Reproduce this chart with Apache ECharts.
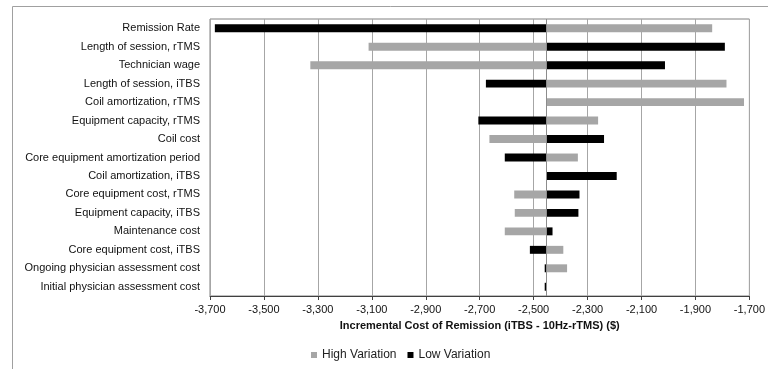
<!DOCTYPE html>
<html>
<head>
<meta charset="utf-8">
<script src="https://cdn.jsdelivr.net/npm/echarts@6/dist/echarts.min.js"></script>
<style>html,body{margin:0;padding:0;background:#fff}#c{width:768px;height:369px}</style>
</head>
<body>
<div id="c"></div>
<script>
const categories = [
  'Remission Rate',
  'Length of session, rTMS',
  'Technician wage',
  'Length of session, iTBS',
  'Coil amortization, rTMS',
  'Equipment capacity, rTMS',
  'Coil cost',
  'Core equipment amortization period',
  'Coil amortization, iTBS',
  'Core equipment cost, rTMS',
  'Equipment capacity, iTBS',
  'Maintenance cost',
  'Core equipment cost, iTBS',
  'Ongoing physician assessment cost',
  'Initial physician assessment cost'
];
const baseValue = -2454;
const highVariation = [-1838, -3112, -3328, -1785, -1720, -2261, -2664, -2336, -2454, -2572, -2570, -2607, -2390, -2376, -2454];
const lowVariation  = [-3682, -1791, -2013, -2677, -2454, -2705, -2239, -2607, -2192, -2330, -2334, -2430, -2514, -2459, -2459];
const xTicks = { min: -3700, max: -1700, interval: 200 };

const FONT = '"Liberation Sans", Arial, sans-serif';

function renderBar(params, api) {
  const v = api.value(0);
  const c = api.value(1);
  const p0 = api.coord([baseValue, c]);
  const p1 = api.coord([v, c]);
  const h = api.size([0, 1])[1] * 0.43;
  return {
    type: 'rect',
    shape: { x: Math.min(p0[0], p1[0]), y: p0[1] - h / 2, width: Math.abs(p1[0] - p0[0]), height: h },
    style: api.style()
  };
}

const chart = echarts.init(document.getElementById('c'), null, { renderer: 'canvas' });
chart.setOption({
  animation: false,
  textStyle: { fontFamily: FONT },
  graphic: [{
    type: 'polyline',
    shape: { points: [[12.5, 369], [12.5, 6.5], [768, 6.5]] },
    style: { stroke: '#a0a0a0', lineWidth: 1, fill: null },
    silent: true
  }],
  grid: { left: 210, right: 16, top: 19, bottom: 73, show: true, borderColor: '#808080', borderWidth: 1 },
  legend: {
    top: 349,
    left: 311,
    icon: 'rect',
    itemWidth: 6,
    itemHeight: 6,
    itemGap: 11,
    padding: 0,
    textStyle: { fontSize: 12, color: '#222', fontFamily: FONT },
    data: ['High Variation', 'Low Variation']
  },
  xAxis: {
    type: 'value',
    min: xTicks.min,
    max: xTicks.max,
    interval: xTicks.interval,
    name: 'Incremental Cost of Remission (iTBS - 10Hz-rTMS) ($)',
    nameLocation: 'middle',
    nameGap: 24,
    nameTextStyle: { fontSize: 11, fontWeight: 'bold', color: '#111', fontFamily: FONT },
    axisLine: { show: true, lineStyle: { color: '#404040', width: 1 } },
    axisTick: { show: true, length: 4, lineStyle: { color: '#404040' } },
    axisLabel: {
      fontSize: 11, color: '#111', margin: 8, fontFamily: FONT,
      formatter: v => v.toLocaleString('en-US')
    },
    splitLine: { show: true, lineStyle: { color: '#a6a6a6', width: 1 } }
  },
  yAxis: {
    type: 'category',
    data: categories,
    inverse: true,
    axisLine: { show: false },
    axisTick: { show: false },
    axisLabel: { fontSize: 11, color: '#111', margin: 10, fontFamily: FONT },
    splitLine: { show: false }
  },
  series: [
    {
      name: 'High Variation',
      type: 'custom',
      renderItem: renderBar,
      encode: { x: 0, y: 1 },
      itemStyle: { color: '#a6a6a6' },
      data: highVariation.map((v, i) => [v, i]),
      markLine: {
        silent: true, symbol: 'none', label: { show: false },
        lineStyle: { color: '#8c8c8c', width: 1, type: 'solid' },
        data: [{ xAxis: baseValue }]
      },
      z: 3
    },
    {
      name: 'Low Variation',
      type: 'custom',
      renderItem: renderBar,
      encode: { x: 0, y: 1 },
      itemStyle: { color: '#000000' },
      data: lowVariation.map((v, i) => [v, i]),
      z: 4
    }
  ]
});
</script>
</body>
</html>
